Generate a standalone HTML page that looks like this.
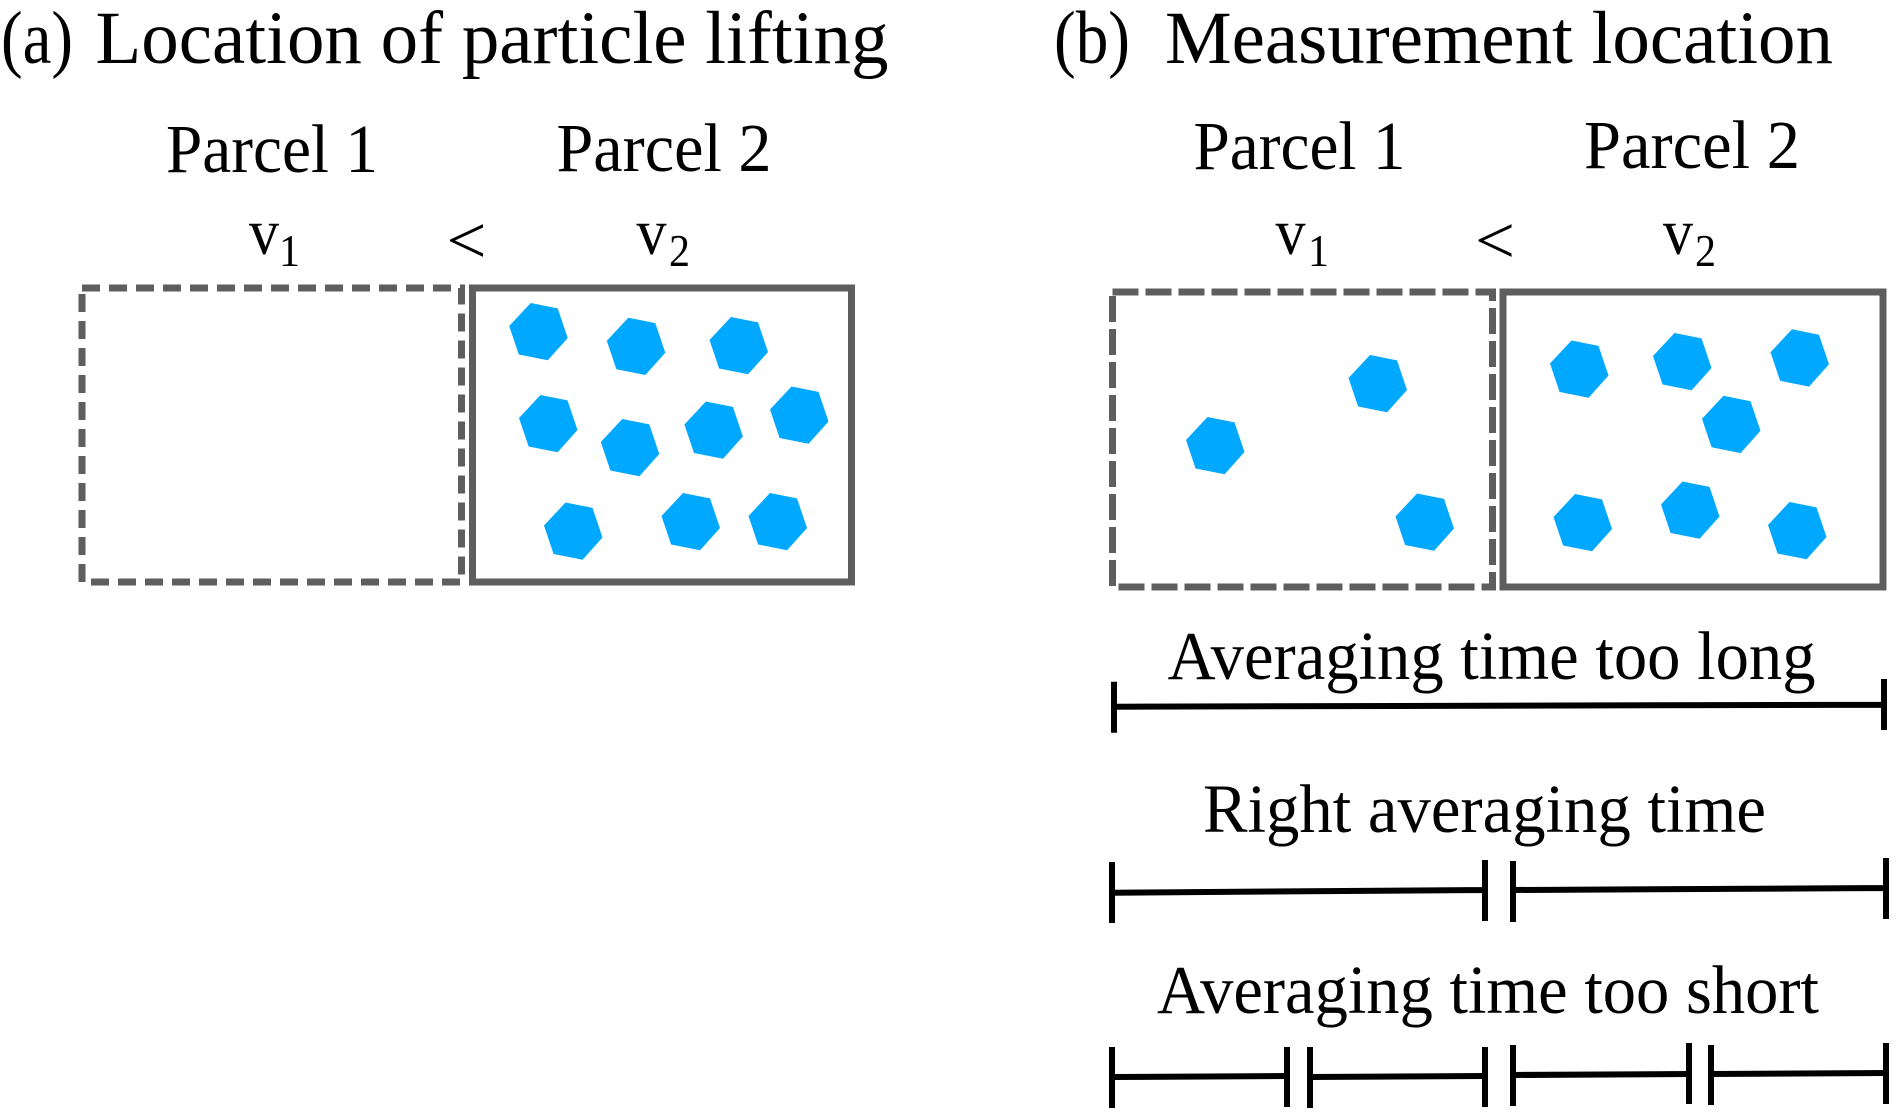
<!DOCTYPE html>
<html><head><meta charset="utf-8"><style>
html,body{margin:0;padding:0;background:#fff;width:1902px;height:1120px;overflow:hidden}
svg{display:block}
text{font-family:"Liberation Serif",serif;fill:#000}
</style></head><body>
<svg width="1902" height="1120" viewBox="0 0 1902 1120" xmlns="http://www.w3.org/2000/svg">
<defs><polygon id="h" points="21.5,0 48.5,5.4 58.5,35 38.6,57.3 9.6,51.5 0,23" fill="#00a8ff"/></defs>
<g font-size="75">
<text x="1" y="63" textLength="72" lengthAdjust="spacingAndGlyphs">(a)</text>
<text x="95.5" y="63" textLength="793" lengthAdjust="spacingAndGlyphs">Location of particle lifting</text>
<text x="1054" y="63" textLength="76" lengthAdjust="spacingAndGlyphs">(b)</text>
<text x="1165" y="63" textLength="668" lengthAdjust="spacingAndGlyphs">Measurement location</text>
</g>
<g font-size="69">
<text x="166" y="172" textLength="212" lengthAdjust="spacingAndGlyphs">Parcel 1</text>
<text x="556.5" y="171" textLength="215" lengthAdjust="spacingAndGlyphs">Parcel 2</text>
<text x="1193.5" y="169" textLength="212" lengthAdjust="spacingAndGlyphs">Parcel 1</text>
<text x="1584" y="168" textLength="216" lengthAdjust="spacingAndGlyphs">Parcel 2</text>
<text x="1167.5" y="679" textLength="648" lengthAdjust="spacingAndGlyphs">Averaging time too long</text>
<text x="1203" y="832" textLength="563" lengthAdjust="spacingAndGlyphs">Right averaging time</text>
<text x="1157" y="1013" textLength="662" lengthAdjust="spacingAndGlyphs">Averaging time too short</text>
</g>
<g font-size="66">
<text x="249" y="254" textLength="30" lengthAdjust="spacingAndGlyphs">v</text><text x="636.5" y="254" textLength="30" lengthAdjust="spacingAndGlyphs">v</text>
<text x="1275.5" y="254" textLength="30" lengthAdjust="spacingAndGlyphs">v</text><text x="1663" y="254" textLength="30" lengthAdjust="spacingAndGlyphs">v</text>
</g>
<g font-size="46">
<text x="279" y="266" textLength="21" lengthAdjust="spacingAndGlyphs">1</text><text x="669" y="266" textLength="21" lengthAdjust="spacingAndGlyphs">2</text>
<text x="1308" y="266" textLength="21" lengthAdjust="spacingAndGlyphs">1</text><text x="1695" y="266" textLength="21" lengthAdjust="spacingAndGlyphs">2</text>
</g>
<g font-size="68">
<text x="446.5" y="263" textLength="40" lengthAdjust="spacingAndGlyphs">&lt;</text>
<text x="1475" y="263" textLength="40" lengthAdjust="spacingAndGlyphs">&lt;</text>
</g>
<g fill="none" stroke="#5e5e5e" stroke-width="7">
<rect x="82" y="288" width="379.5" height="294" stroke-dasharray="18 9"/>
<rect x="472.5" y="288" width="379" height="294"/>
<rect x="1112.5" y="292" width="380" height="295" stroke-dasharray="26 7"/>
<rect x="1503" y="292" width="380" height="295"/>
</g>
<g>
<use href="#h" x="509.2" y="303"/>
<use href="#h" x="606.8" y="317.7"/>
<use href="#h" x="709.5" y="317"/>
<use href="#h" x="519" y="395"/>
<use href="#h" x="600.8" y="419"/>
<use href="#h" x="684.4" y="401.5"/>
<use href="#h" x="770" y="386.5"/>
<use href="#h" x="544" y="502.5"/>
<use href="#h" x="661.5" y="493"/>
<use href="#h" x="748.5" y="493"/>
<use href="#h" x="1186" y="417"/>
<use href="#h" x="1348.5" y="355"/>
<use href="#h" x="1395.5" y="493.5"/>
<use href="#h" x="1550" y="340.5"/>
<use href="#h" x="1653" y="333"/>
<use href="#h" x="1770.5" y="329.3"/>
<use href="#h" x="1702" y="395.8"/>
<use href="#h" x="1553.5" y="494"/>
<use href="#h" x="1661" y="481.5"/>
<use href="#h" x="1768" y="502"/>
</g>
<g stroke="#000" stroke-width="6" fill="none">
<path d="M1114 706.7L1884 704.7M1114 681.7V732.7M1884 679V730"/>
<path d="M1112 892.7L1485 890M1513 890L1886 888M1112 862V923M1485 860V921M1513 861V922M1886 858V919"/>
<path d="M1112 1077L1287 1076M1310 1077L1485 1076M1513 1075L1689 1074M1711 1074L1886 1073"/>
<path d="M1112 1047V1108M1287 1047V1107M1310 1047V1108M1485 1047V1107M1513 1045V1106M1689 1043V1104M1711 1045V1105M1886 1043V1104"/>
</g>
</svg>
</body></html>
